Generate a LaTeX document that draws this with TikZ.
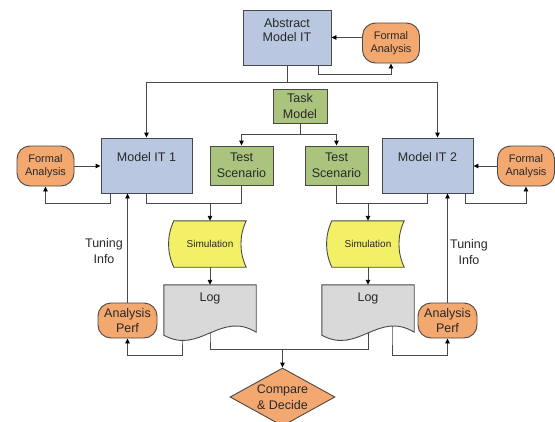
\documentclass[tikz,border=0pt]{standalone}
\usepackage{fontspec}
\setmainfont{Liberation Sans}
\usetikzlibrary{arrows.meta,shapes.geometric,backgrounds}

\definecolor{modelblue}{RGB}{185,200,224}
\definecolor{taskgreen}{RGB}{170,196,125}
\definecolor{anaorange}{RGB}{243,168,112}
\definecolor{simyellow}{RGB}{242,240,102}
\definecolor{loggray}{RGB}{217,217,217}
\definecolor{edgegray}{RGB}{72,72,72}
\definecolor{textgray}{RGB}{40,40,40}

\newcommand{\bigtxt}{\fontsize{12.5}{16}\selectfont}
\newcommand{\smalltxt}{\fontsize{11}{13}\selectfont}

\tikzset{
  shapebase/.style={draw=edgegray, line width=0.9pt, text=textgray, align=center, inner sep=0pt},
  modelbox/.style={shapebase, fill=modelblue, minimum width=91pt, minimum height=55pt,
    font=\bigtxt, text height=9pt, text depth=17pt},
  greenbox/.style={shapebase, fill=taskgreen, minimum width=63pt, minimum height=39pt, font=\bigtxt},
  pill/.style={shapebase, fill=anaorange, rounded corners=13pt, minimum width=57pt, minimum height=40pt},
  freetext/.style={text=textgray, align=center, inner sep=0pt},
  conn/.style={draw=edgegray, line width=0.9pt},
  arr/.style={conn, -{Triangle[length=5pt,width=4.5pt,color=black]}},
  docshape/.style={draw=edgegray, line width=0.9pt, fill=loggray},
  storeshape/.style={draw=edgegray, line width=0.9pt, fill=simyellow}
}

\begin{document}
\begin{tikzpicture}[x=1pt,y=-1pt]
  \useasboundingbox (0,0) rectangle (555,421);

  % top row
  \node[modelbox, minimum width=88pt, text depth=2pt, font=\fontsize{12.5}{14}\selectfont] (abs) at (287,37.5) {Abstract\\Model IT};
  \node[pill, font=\smalltxt] (faTop) at (391,43) {Formal\\Analysis};
  \node[greenbox, minimum width=54pt, minimum height=34pt] (task) at (300,106) {Task\\Model};

  % middle row
  \node[pill, font=\smalltxt] (fa1) at (45.5,166) {Formal\\Analysis};
  \node[modelbox] (m1) at (146.5,165.5) {Model IT 1};
  \node[greenbox] (ts1) at (241.5,165.5) {Test\\Scenario};
  \node[greenbox] (ts2) at (336.5,165.5) {Test\\Scenario};
  \node[modelbox] (m2) at (427.5,165.5) {Model IT 2};
  \node[pill, font=\smalltxt] (fa2) at (526,166) {Formal\\Analysis};

  % simulation and logs
  \node[freetext, minimum width=72pt, minimum height=46pt, font=\fontsize{10}{12}\selectfont] (sim1) at (210,244) {Simulation};
  \node[freetext, minimum width=72pt, minimum height=46pt, font=\fontsize{10}{12}\selectfont] (sim2) at (368,244) {Simulation};
  \node[freetext, minimum width=92pt, minimum height=50pt, font=\bigtxt, text height=9pt, text depth=26pt] (log1) at (210,310) {Log};
  \node[freetext, minimum width=92pt, minimum height=50pt, font=\bigtxt, text height=9pt, text depth=26pt] (log2) at (368,310) {Log};

  \node[pill, minimum width=59pt, minimum height=35pt, font=\fontsize{12.5}{15}\selectfont] (ap1) at (127.5,320.5) {Analysis\\Perf};
  \node[pill, minimum width=59pt, minimum height=35pt, font=\fontsize{12.5}{15}\selectfont] (ap2) at (447.5,320.5) {Analysis\\Perf};

  \node[freetext, font=\bigtxt] (tune1) at (104,251) {Tuning\\Info};
  \node[freetext, font=\bigtxt] (tune2) at (469,252) {Tuning\\Info};

  \node[shapebase, diamond, shape aspect=1.8, fill=anaorange, minimum width=105pt, minimum height=58pt, font=\bigtxt] (cmp) at (282.5,397) {Compare\\\& Decide};

  % top connectors
  \draw[arr] (faTop.west |- abs.east) -- (abs.east);
  \draw[arr] ([xshift=31pt]abs.south) -- ++(0,9) -| (faTop.south);
  \draw[conn] (abs.south) -- ++(0,17) coordinate (split);
  \draw[arr] (split) -| (m1.north);
  \draw[arr] (split) -| ([xshift=10pt]m2.north);
  \draw[conn] (task.south) -- ++(0,11) coordinate (tsplit);
  \draw[arr] (tsplit) -| (ts1.north);
  \draw[arr] (tsplit) -| (ts2.north);

  % middle connectors
  \draw[arr] (fa1.east) -- (fa1.east -| m1.west);
  \draw[arr] (fa2.west) -- (fa2.west -| m2.east);
  \draw[arr] ([xshift=-36.5pt]m1.south) -- ++(0,10) -| (fa1.south);
  \draw[conn] (m1.south) -- ++(0,10) coordinate (lsplit) -| (ts1.south);
  \draw[arr] (lsplit -| sim1.north) -- (sim1.north);
  \draw[conn] (ts2.south) -- ++(0,18) coordinate (rsplit) -| (m2.south);
  \draw[arr] (rsplit -| sim2.north) -- (sim2.north);
  \draw[arr] ([xshift=37.5pt]m2.south) -- ++(0,10) -| (fa2.south);

  % simulation to log, tuning feedback
  \draw[arr] (sim1.south) -- (log1.north);
  \draw[arr] (sim2.south) -- (log2.north);
  \draw[arr] (ap1.north) -- (ap1.north |- m1.south);
  \draw[arr] (ap2.north) -- (ap2.north |- m2.south);

  \begin{pgfonlayer}{background}
    \draw[arr] ([xshift=-28pt]log1.center) -- ([xshift=-28pt]log1.south) -- ++(0,20) -| (ap1.south);
    \draw[conn] (log1.center) -- (log1.south) -- ++(0,14) coordinate (cmpin) -| (log2.center);
    \draw[arr] ([xshift=24pt]log2.center) -- ([xshift=24pt]log2.south) -- ++(0,20) -| (ap2.south);
    % document and stored data outlines
    \draw[docshape] (log1.north west) -- (log1.north east) -- ([yshift=3pt]log1.south east)
      .. controls ([xshift=-36pt,yshift=25pt]log1.south east) and ([xshift=36pt,yshift=-20pt]log1.south west) .. (log1.south west) -- cycle;
    \draw[docshape] (log2.north west) -- (log2.north east) -- ([yshift=3pt]log2.south east)
      .. controls ([xshift=-36pt,yshift=25pt]log2.south east) and ([xshift=36pt,yshift=-20pt]log2.south west) .. (log2.south west) -- cycle;
    \draw[storeshape] (sim1.north west) -- (sim1.north east)
      .. controls ([xshift=-7pt,yshift=-15pt]sim1.north east) and ([xshift=-7pt,yshift=15pt]sim1.south east) .. (sim1.south east)
      -- (sim1.south west)
      .. controls ([xshift=-7pt,yshift=15pt]sim1.south west) and ([xshift=-7pt,yshift=-15pt]sim1.north west) .. (sim1.north west) -- cycle;
    \draw[storeshape] (sim2.north west) -- (sim2.north east)
      .. controls ([xshift=-7pt,yshift=-15pt]sim2.north east) and ([xshift=-7pt,yshift=15pt]sim2.south east) .. (sim2.south east)
      -- (sim2.south west)
      .. controls ([xshift=-7pt,yshift=15pt]sim2.south west) and ([xshift=-7pt,yshift=-15pt]sim2.north west) .. (sim2.north west) -- cycle;
  \end{pgfonlayer}

  \draw[arr] (cmpin -| cmp.north) -- (cmp.north);
\end{tikzpicture}
\end{document}
